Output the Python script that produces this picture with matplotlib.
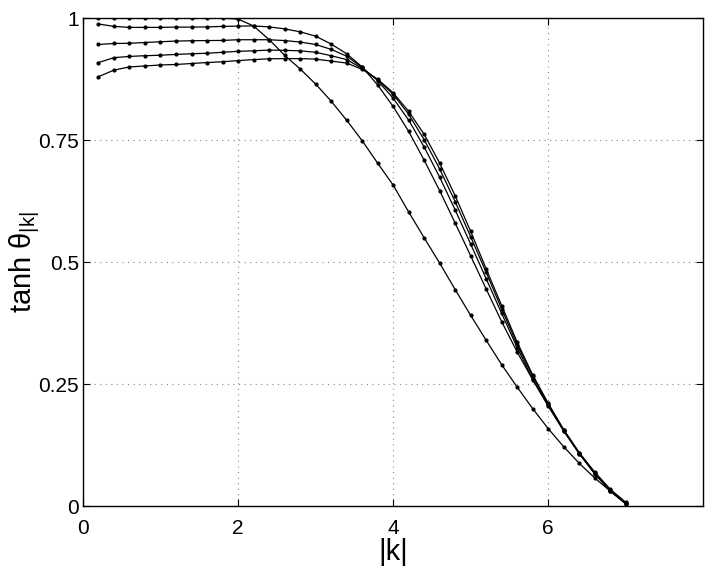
import numpy as np
import matplotlib
matplotlib.use('Agg')
import matplotlib.pyplot as plt

plt.rcParams['font.family'] = ['Liberation Sans', 'DejaVu Sans']
plt.rcParams['mathtext.fontset'] = 'custom'
plt.rcParams['mathtext.rm'] = 'Liberation Sans'
plt.rcParams['mathtext.it'] = 'Liberation Sans'

# |k| grid, step 0.2
k = np.round(np.arange(1, 36) * 0.2, 1)

# curve that sits at 1 and drops first
curve_a = [1.0, 1.0, 1.0, 1.0, 1.0, 1.0, 1.0, 1.0, 1.0, 0.998,
           0.984, 0.956, 0.924, 0.896, 0.865, 0.830, 0.791, 0.749, 0.703, 0.658,
           0.603, 0.550, 0.498, 0.444, 0.391, 0.340, 0.290, 0.244, 0.200, 0.159,
           0.122, 0.088, 0.058, 0.031, 0.005]
curve_b = [0.988, 0.983, 0.981, 0.981, 0.981, 0.9816, 0.9816, 0.982, 0.983, 0.9836,
           0.984, 0.982, 0.978, 0.972, 0.963, 0.947, 0.927, 0.900, 0.863, 0.819,
           0.768, 0.709, 0.6465, 0.580, 0.513, 0.445, 0.378, 0.316, 0.259, 0.205,
           0.154, 0.1075, 0.0665, 0.031, 0.005]
curve_c = [0.946, 0.948, 0.9485, 0.950, 0.9516, 0.953, 0.9536, 0.954, 0.9543, 0.9557,
           0.9557, 0.9557, 0.954, 0.951, 0.946, 0.936, 0.922, 0.899, 0.872, 0.836,
           0.791, 0.736, 0.674, 0.607, 0.537, 0.466, 0.395, 0.325, 0.260, 0.207,
           0.155, 0.108, 0.067, 0.032, 0.006]
curve_d = [0.909, 0.919, 0.9215, 0.923, 0.924, 0.9256, 0.927, 0.928, 0.930, 0.932,
           0.933, 0.9345, 0.934, 0.933, 0.930, 0.923, 0.915, 0.897, 0.874, 0.844,
           0.803, 0.751, 0.691, 0.624, 0.552, 0.479, 0.404, 0.331, 0.266, 0.209,
           0.156, 0.109, 0.068, 0.033, 0.007]
curve_e = [0.880, 0.8935, 0.900, 0.902, 0.904, 0.905, 0.907, 0.909, 0.9106, 0.913,
           0.915, 0.9167, 0.917, 0.917, 0.916, 0.912, 0.908, 0.895, 0.875, 0.847,
           0.809, 0.762, 0.703, 0.636, 0.563, 0.486, 0.411, 0.336, 0.269, 0.211,
           0.157, 0.110, 0.070, 0.035, 0.008]

xticks = [0, 2, 4, 6]
yticks = [0, 0.25, 0.5, 0.75, 1]
yticklabels = ['0', '0.25', '0.5', '0.75', '1']

fig = plt.figure(figsize=(7.09, 5.66), dpi=100)
ax = fig.add_axes([0.117, 0.1055, 0.875, 0.8625])

for c in [curve_a, curve_b, curve_c, curve_d, curve_e]:
    ax.plot(k, c, color='black', lw=0.9, marker='.', markersize=4)

ax.set_xlim(0, 8)
ax.set_ylim(0, 1)
ax.set_xticks(xticks)
ax.set_yticks(yticks)
ax.set_yticklabels(yticklabels)
ax.grid(True, linestyle=(0, (1, 4)), color='#888888', lw=0.8)
ax.tick_params(direction='in', top=True, right=True, labelsize=15, length=5)
ax.tick_params(axis='x', pad=9)
ax.tick_params(axis='y', pad=3)
for s in ax.spines.values():
    s.set_linewidth(1.0)

ax.set_xlabel('|k|', fontsize=21, labelpad=0)
ax.set_ylabel(r'tanh $\theta_{|k|}$', fontsize=21, labelpad=-3)

fig.savefig('out.png', dpi=100)
